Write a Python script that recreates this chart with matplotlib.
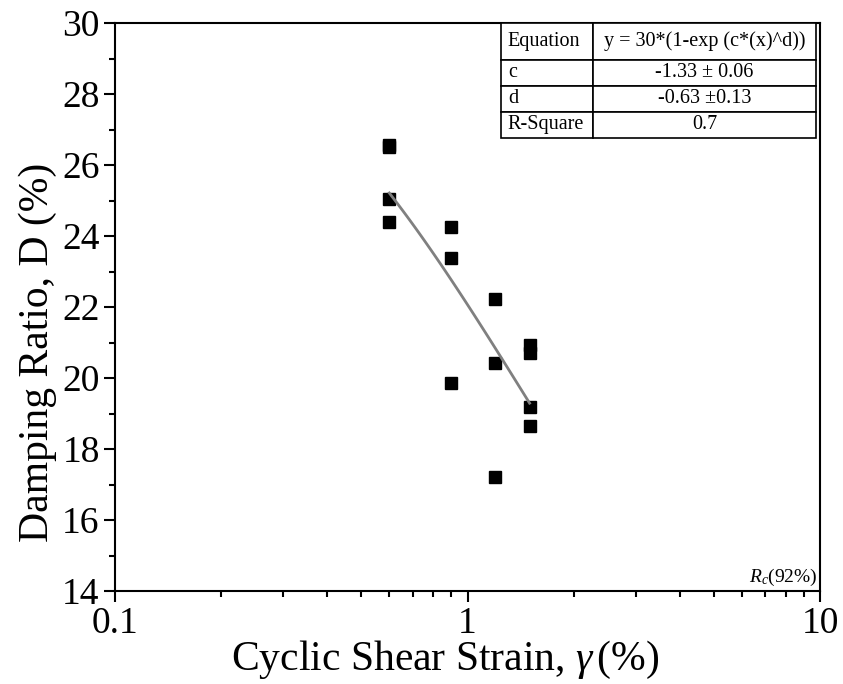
import numpy as np
import matplotlib
matplotlib.use("Agg")
import matplotlib.pyplot as plt
from matplotlib.ticker import FixedLocator, NullFormatter, LogLocator

plt.rcParams['font.family'] = ['Liberation Serif', 'DejaVu Serif']
plt.rcParams['mathtext.fontset'] = 'custom'
plt.rcParams['mathtext.rm'] = 'Liberation Serif'
plt.rcParams['mathtext.it'] = 'Liberation Serif:italic'

# ---- data ----
strain_06 = [0.6, 0.6, 0.6, 0.6]
damp_06 = [26.55, 26.5, 25.03, 24.4]
strain_09 = [0.9, 0.9, 0.9]
damp_09 = [24.25, 23.37, 19.85]
strain_12 = [1.2, 1.2, 1.2]
damp_12 = [22.22, 20.43, 17.2]
strain_15 = [1.5, 1.5, 1.5, 1.5]
damp_15 = [20.92, 20.7, 19.19, 18.65]

fit_c = -1.33
fit_d = -0.63
fit_xmin, fit_xmax = 0.6, 1.5

table_rows = [["Equation", "y = 30*(1-exp (c*(x)^d))"],
              ["c", "-1.33 \u00b1 0.06"],
              ["d", "-0.63 \u00b10.13"],
              ["R-Square", "0.7"]]

x_ticks = [0.1, 1, 10]
x_ticklabels = ["0.1", "1", "10"]
y_ticks = [14, 16, 18, 20, 22, 24, 26, 28, 30]

# ---- figure ----
fig = plt.figure(figsize=(8.43, 6.84), dpi=100)
ax = fig.add_axes([115/843, 1-591/684, (820-115)/843, (591-23)/684])

xs = np.concatenate([strain_06, strain_09, strain_12, strain_15])
ys = np.concatenate([damp_06, damp_09, damp_12, damp_15])
ax.plot(xs, ys, linestyle='none', marker='s', markersize=9.2, color='black', zorder=3)

xf = np.linspace(fit_xmin, fit_xmax, 100)
yf = 30 * (1 - np.exp(fit_c * xf ** fit_d))
ax.plot(xf, yf, color='#808080', linewidth=2.0, zorder=4)

ax.set_xscale('log')
ax.set_xlim(0.1, 10)
ax.set_ylim(14, 30)
ax.set_xticks(x_ticks)
ax.set_xticklabels(x_ticklabels)
ax.xaxis.set_minor_locator(LogLocator(base=10, subs=np.arange(2, 10)))
ax.xaxis.set_minor_formatter(NullFormatter())
ax.set_yticks(y_ticks)
ax.yaxis.set_minor_locator(FixedLocator(np.arange(15, 30, 2)))

ax.tick_params(which='major', direction='out', length=8, width=1.5, labelsize=27, pad=3,
               top=False, right=False)
ax.tick_params(which='minor', direction='out', length=4, width=1.5, top=False, right=False)
for s in ax.spines.values():
    s.set_linewidth(1.5)

ax.set_xlabel(r'Cyclic Shear Strain, $\gamma\,$(%)', fontsize=30, labelpad=0)
ax.xaxis.set_label_coords((445-115)/705, -0.085)
ax.set_ylabel('Damping Ratio, D (%)', fontsize=30)
ax.yaxis.set_label_coords((57-115)/705, (591-352)/568)

# table
tb_left = (501-115)/705
tb_right = (816-115)/705
tb_bottom = (591-138)/568
tbl = ax.table(cellText=table_rows, colWidths=[0.292, 0.708],
               bbox=[tb_left, tb_bottom, tb_right - tb_left, 1 - tb_bottom],
               cellLoc='center', zorder=5)
tbl.auto_set_font_size(False)
for (r, c), cell in tbl.get_celld().items():
    cell.set_linewidth(1.2)
    cell.set_edgecolor('black')
    cell.set_facecolor('white')
    cell.get_text().set_fontsize(14.5)
    cell.get_text().set_fontfamily('Liberation Serif')
    if r == 0:
        cell.set_height(cell.get_height() * 1.4)
    if c == 0:
        cell._loc = 'left'
        cell.get_text().set_horizontalalignment('left')
        cell.PAD = 0.075

ax.text(0.996, 0.006, r'$R_c$(92%)', transform=ax.transAxes, ha='right', va='bottom',
        fontsize=14)

fig.savefig('out.png', dpi=100)
